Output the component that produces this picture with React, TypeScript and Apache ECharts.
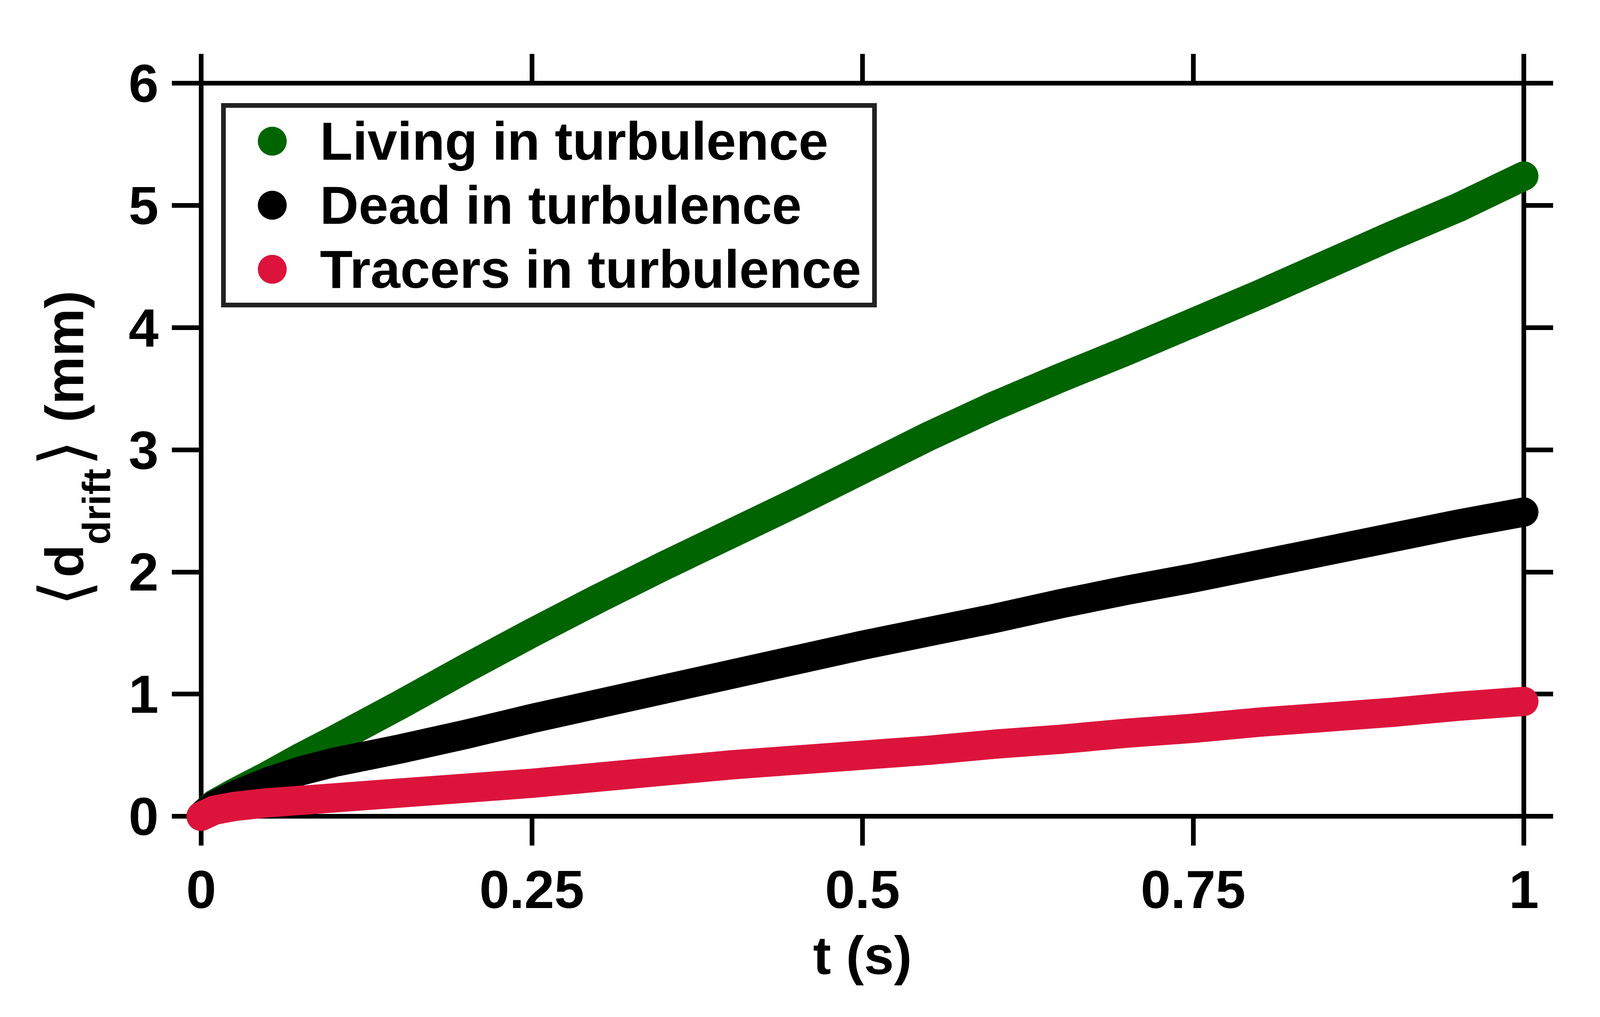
import React, { useEffect, useRef } from "react";
import * as echarts from "echarts";

const T = [0, 0.01, 0.025, 0.05, 0.075, 0.1, 0.15, 0.2, 0.25, 0.3, 0.35, 0.4, 0.45, 0.5, 0.55, 0.6, 0.65, 0.7, 0.75, 0.8, 0.85, 0.9, 0.95, 1.0];
const LIVING = [0, 0.1, 0.19, 0.33, 0.48, 0.62, 0.91, 1.21, 1.5, 1.78, 2.05, 2.31, 2.57, 2.84, 3.11, 3.36, 3.59, 3.81, 4.04, 4.27, 4.51, 4.75, 4.98, 5.24];
const DEAD = [0, 0.09, 0.17, 0.28, 0.37, 0.44, 0.55, 0.67, 0.8, 0.92, 1.04, 1.16, 1.28, 1.4, 1.51, 1.62, 1.74, 1.85, 1.95, 2.06, 2.17, 2.28, 2.39, 2.49];
const TRACERS = [0, 0.05, 0.08, 0.11, 0.13, 0.15, 0.19, 0.23, 0.27, 0.32, 0.37, 0.42, 0.46, 0.5, 0.54, 0.59, 0.63, 0.68, 0.72, 0.77, 0.81, 0.85, 0.9, 0.94];

const SERIES_NAMES = ["Living in turbulence", "Dead in turbulence", "Tracers in turbulence"];
const SERIES_VALUES = [LIVING, DEAD, TRACERS];
const COLORS = ["#006400", "#000000", "#DC143C"];

const X_NAME = "t (s)";
const FONT = "'Liberation Sans', Arial, Helvetica, sans-serif";

export default function App() {
  const ref = useRef<HTMLDivElement>(null);
  useEffect(() => {
    if (!ref.current) return;
    const chart = echarts.init(ref.current, undefined, { renderer: "svg" });
    const axisLine = { show: true, onZero: false, lineStyle: { color: "#000", width: 12 } };
    const axisTick = { show: true, inside: false, length: 75, lineStyle: { color: "#000", width: 12 } };
    const labelStyle = { fontSize: 138, fontWeight: "bold", color: "#000", fontFamily: FONT };
    const option: any = {
      animation: false,
      backgroundColor: "#ffffff",
      grid: { left: 515, right: 266, top: 213, bottom: 514, containLabel: false },
      legend: {
        orient: "vertical",
        left: 572,
        top: 270,
        icon: "circle",
        itemWidth: 74,
        itemHeight: 74,
        itemGap: 27,
        padding: [23, 34, 23, 88],
        borderColor: "#222",
        borderWidth: 12,
        backgroundColor: "#fff",
        selectedMode: false,
        itemStyle: { borderWidth: 0 },
        textStyle: { ...labelStyle, fontSize: 137, padding: [0, 0, 0, 80] },
        data: SERIES_NAMES,
      },
      xAxis: [
        {
          type: "value",
          min: 0,
          max: 1,
          interval: 0.25,
          position: "bottom",
          axisLine,
          axisTick,
          splitLine: { show: false },
          axisLabel: { ...labelStyle, margin: 118, formatter: (v: number) => String(v) },
          name: X_NAME,
          nameLocation: "middle",
          nameGap: 287,
          nameTextStyle: { ...labelStyle },
        },
        {
          type: "value",
          min: 0,
          max: 1,
          interval: 0.25,
          position: "top",
          axisLine,
          axisTick,
          splitLine: { show: false },
          axisLabel: { show: false },
        },
      ],
      yAxis: [
        {
          type: "value",
          min: 0,
          max: 6,
          interval: 1,
          position: "left",
          axisLine,
          axisTick,
          splitLine: { show: false },
          axisLabel: { ...labelStyle, margin: 109 },
          name: "{br|\u27E8}{m|d}{s|drift}{br|\u27E9}{m| (mm)}",
          nameLocation: "middle",
          nameRotate: 90,
          nameGap: 218,
          nameTextStyle: {
            rich: {
              m: { fontSize: 138, fontWeight: "bold", color: "#000", fontFamily: FONT },
              s: { fontSize: 100, fontWeight: "bold", color: "#000", fontFamily: FONT, padding: [164, 0, 0, 0] },
              br: { fontSize: 175, fontWeight: "normal", color: "#000", fontFamily: "'DejaVu Sans', sans-serif", padding: [0, 6, 0, 6] },
            },
          },
        },
        {
          type: "value",
          min: 0,
          max: 6,
          interval: 1,
          position: "right",
          axisLine,
          axisTick,
          splitLine: { show: false },
          axisLabel: { show: false },
        },
      ],
      series: SERIES_NAMES.map((name, i) => ({
        name,
        type: "line",
        data: T.map((t, j) => [t, SERIES_VALUES[i][j]]),
        showSymbol: false,
        symbol: "circle",
        clip: false,
        z: 3 + i,
        itemStyle: { color: COLORS[i] },
        lineStyle: { color: COLORS[i], width: 75, cap: "round", join: "round" },
      })),
    };
    chart.setOption(option);
    return () => chart.dispose();
  }, []);
  return (
    <div
      ref={ref}
      style={{ position: "fixed", left: 0, top: 0, width: 4167, height: 2604, background: "#fff" }}
    />
  );
}
